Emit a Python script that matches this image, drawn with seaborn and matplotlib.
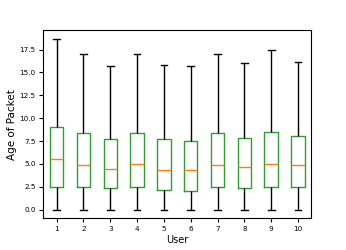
import numpy as np
import pandas as pd
import matplotlib
matplotlib.use("Agg")
import matplotlib.pyplot as plt
import seaborn as sns

users = ["1", "2", "3", "4", "5", "6", "7", "8", "9", "10"]
# five-number summaries per user: min, q1, median, q3, max
mins = [0, 0, 0, 0, 0, 0, 0, 0, 0, 0]
q1s = [2.5, 2.5, 2.35, 2.5, 2.2, 2.0, 2.5, 2.32, 2.5, 2.5]
medians = [5.5, 4.85, 4.5, 5.0, 4.3, 4.32, 4.83, 4.68, 5.0, 4.83]
q3s = [9.0, 8.35, 7.7, 8.35, 7.7, 7.52, 8.35, 7.84, 8.5, 8.03]
maxs = [18.7, 17.0, 15.7, 17.0, 15.8, 15.7, 17.0, 16.0, 17.5, 16.15]

rows = []
for i, u in enumerate(users):
    for v in (mins[i], q1s[i], medians[i], q3s[i], maxs[i]):
        rows.append({"User": u, "Age of Packet": v})
df = pd.DataFrame(rows)

fig, ax = plt.subplots(figsize=(3.46, 2.5), dpi=100)
fig.subplots_adjust(left=0.125, right=0.9, top=0.88, bottom=0.127)

sns.boxplot(data=df, x="User", y="Age of Packet", order=users, ax=ax,
            whis=(0, 100), width=0.5, fill=False, color="#2ca02c",
            linewidth=1.0,
            whiskerprops=dict(color="black"),
            capprops=dict(color="black"),
            medianprops=dict(color="#ff7f0e"),
            boxprops=dict(color="#2ca02c"))

ax.set_xlim(-0.5, 9.5)
ax.set_ylim(-0.935, 19.635)
ax.set_yticks([0, 2.5, 5, 7.5, 10, 12.5, 15, 17.5])
ax.tick_params(labelsize=5.2, length=3, width=0.8, pad=2.5)
ax.set_xlabel("User", fontsize=7, labelpad=2)
ax.set_ylabel("Age of Packet", fontsize=7.5, labelpad=2)
for s in ax.spines.values():
    s.set_linewidth(0.8)

fig.savefig("out.png", dpi=100)
